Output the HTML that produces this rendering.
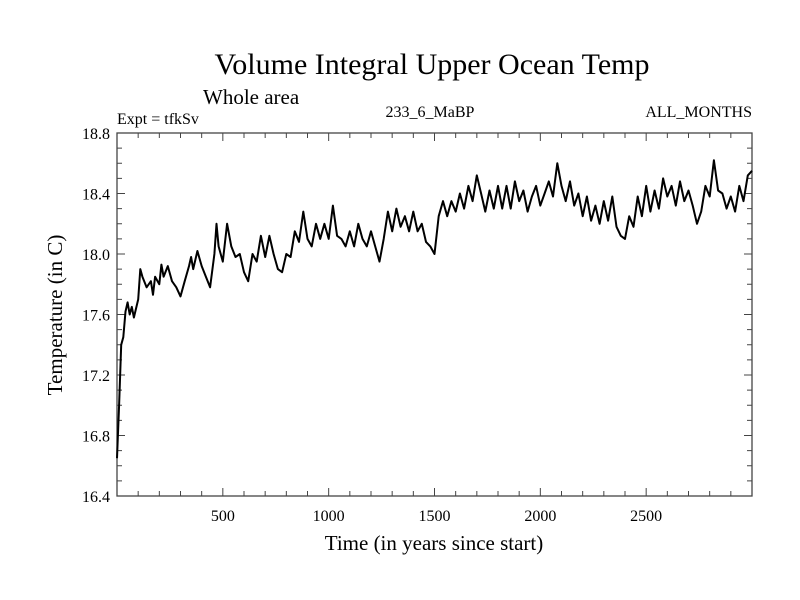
<!DOCTYPE html>
<html><head><meta charset="utf-8"><style>
body{margin:0;background:#fff;}
svg{display:block;font-family:"Liberation Serif",serif;}
</style></head><body>
<svg id="chart" width="800" height="600" viewBox="0 0 800 600">
<rect width="800" height="600" fill="#fff"/>
<text x="432" y="74" font-size="30" text-anchor="middle">Volume Integral Upper Ocean Temp</text>
<text x="203" y="104" font-size="21">Whole area</text>
<text x="117" y="124" font-size="16">Expt = tfkSv</text>
<text x="430" y="117" font-size="16" text-anchor="middle">233_6_MaBP</text>
<text x="752" y="117" font-size="16" text-anchor="end">ALL_MONTHS</text>
<text x="434" y="550" font-size="21" text-anchor="middle">Time (in years since start)</text>
<text x="0" y="0" font-size="21" text-anchor="middle" transform="translate(62,315) rotate(-90)">Temperature (in C)</text>
<g id="axes"></g>
<path id="series" fill="none" stroke="#000" stroke-width="2" stroke-linejoin="round"/>
</svg>
<script>
const years=[0,10,20,30,40,50,60,70,80,100,110,120,140,160,170,180,200,210,220,240,260,280,300,320,340,350,360,380,400,420,440,460,470,480,500,520,540,560,580,600,620,640,660,680,700,720,740,760,780,800,820,840,860,880,900,920,940,960,980,1000,1020,1040,1060,1080,1100,1120,1140,1160,1180,1200,1220,1240,1260,1280,1300,1320,1340,1360,1380,1400,1420,1440,1460,1480,1500,1520,1540,1560,1580,1600,1620,1640,1660,1680,1700,1720,1740,1760,1780,1800,1820,1840,1860,1880,1900,1920,1940,1960,1980,2000,2020,2040,2060,2080,2100,2120,2140,2160,2180,2200,2220,2240,2260,2280,2300,2320,2340,2360,2380,2400,2420,2440,2460,2480,2500,2520,2540,2560,2580,2600,2620,2640,2660,2680,2700,2720,2740,2760,2780,2800,2820,2840,2860,2880,2900,2920,2940,2960,2980,3000];
const temps=[16.65,17.0,17.4,17.45,17.62,17.68,17.6,17.65,17.58,17.7,17.9,17.85,17.78,17.82,17.73,17.85,17.8,17.93,17.85,17.92,17.82,17.78,17.72,17.82,17.92,17.98,17.9,18.02,17.92,17.85,17.78,18.0,18.2,18.05,17.95,18.2,18.05,17.98,18.0,17.88,17.82,18.0,17.95,18.12,17.98,18.12,18.0,17.9,17.88,18.0,17.98,18.15,18.08,18.28,18.1,18.05,18.2,18.1,18.2,18.1,18.32,18.12,18.1,18.05,18.15,18.05,18.2,18.1,18.05,18.15,18.05,17.95,18.1,18.28,18.15,18.3,18.18,18.25,18.15,18.28,18.15,18.2,18.08,18.05,18.0,18.25,18.35,18.25,18.35,18.28,18.4,18.3,18.45,18.35,18.52,18.4,18.28,18.42,18.3,18.45,18.3,18.45,18.3,18.48,18.35,18.42,18.28,18.38,18.45,18.32,18.4,18.48,18.38,18.6,18.45,18.35,18.48,18.32,18.4,18.25,18.38,18.22,18.32,18.2,18.35,18.22,18.38,18.18,18.12,18.1,18.25,18.18,18.38,18.25,18.45,18.28,18.42,18.3,18.5,18.38,18.45,18.32,18.48,18.35,18.42,18.32,18.2,18.28,18.45,18.38,18.62,18.42,18.4,18.3,18.38,18.28,18.45,18.35,18.52,18.55,18.48];
const xTicks=[500,1000,1500,2000,2500];
const yTicks=[16.4,16.8,17.2,17.6,18.0,18.4,18.8];
const X0=117,X1=752,Y0=496,Y1=133,XMIN=0,XMAX=3000,YMIN=16.4,YMAX=18.8;
const sx=v=>X0+(v-XMIN)/(XMAX-XMIN)*(X1-X0);
const sy=v=>Y0-(v-YMIN)/(YMAX-YMIN)*(Y0-Y1);
const NS="http://www.w3.org/2000/svg";
const ax=document.getElementById('axes');
function mk(t,a){const e=document.createElementNS(NS,t);for(const k in a)e.setAttribute(k,a[k]);ax.appendChild(e);return e;}
const frame=mk('rect',{x:X0,y:Y1,width:X1-X0,height:Y0-Y1,fill:'none',stroke:'#444','stroke-width':1.3});


for(let v=100;v<XMAX;v+=100){const L=(v%500===0)?8:5;
 const t1=mk('line',{x1:sx(v),x2:sx(v),y1:Y0,y2:Y0-L,stroke:'#444'});
 
 
 const t2=mk('line',{x1:sx(v),x2:sx(v),y1:Y1,y2:Y1+L,stroke:'#444'});
 
 }
xTicks.forEach(v=>{const t=mk('text',{x:sx(v),y:Y0+25,'font-size':16,'text-anchor':'middle'});t.textContent=v;
 
 });
for(let i=0;i<=24;i++){const v=YMIN+i*0.1;const L=(i%4===0)?8:5;
 const t1=mk('line',{x1:X0,x2:X0+L,y1:sy(v),y2:sy(v),stroke:'#444'});
 
 
 const t2=mk('line',{x1:X1,x2:X1-L,y1:sy(v),y2:sy(v),stroke:'#444'});
 
 }
yTicks.forEach(v=>{const t=mk('text',{x:X0-7,y:sy(v)+6,'font-size':16,'text-anchor':'end'});t.textContent=v.toFixed(1);
 
 });
document.getElementById('series').setAttribute('d',years.map((y,i)=>(i?'L':'M')+sx(y).toFixed(1)+','+sy(temps[i]).toFixed(1)).join(''));
</script>
</body></html>
